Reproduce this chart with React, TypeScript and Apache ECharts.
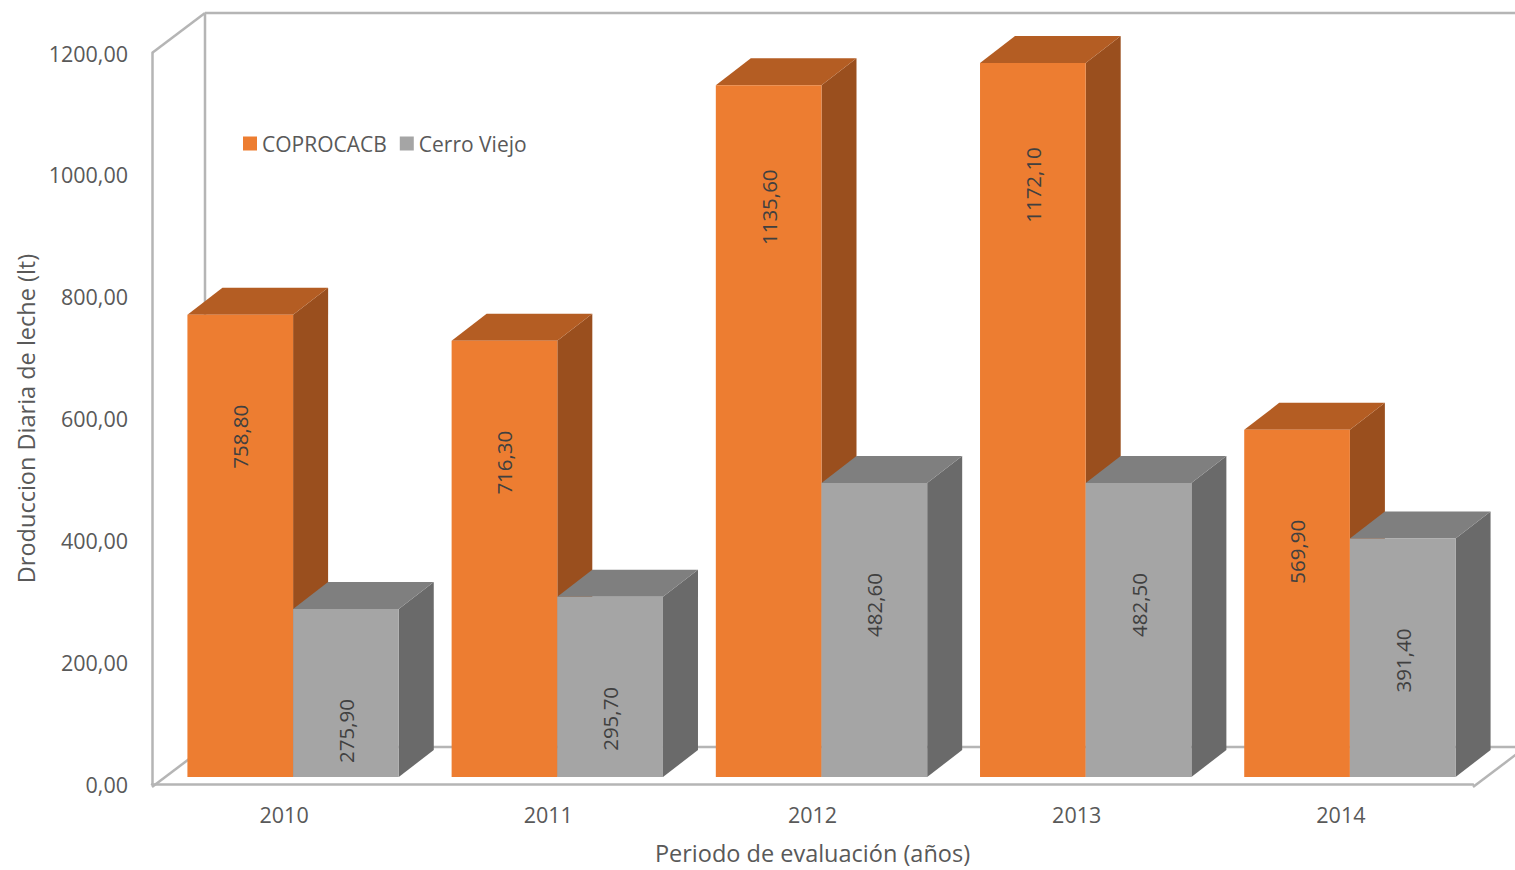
import React, { useEffect, useRef } from "react";
import * as echarts from "echarts";

const categories = ["2010", "2011", "2012", "2013", "2014"];
const seriesNames = ["COPROCACB", "Cerro Viejo"];
const coprocacb = [758.8, 716.3, 1135.6, 1172.1, 569.9];
const cerroViejo = [275.9, 295.7, 482.6, 482.5, 391.4];
const yMin = 0;
const yMax = 1200;
const yInterval = 200;

const W = 1515;
const H = 870;
const GRID = { left: 152, right: 42, top: 53, bottom: 83 };
const DEPTH = [53, -40]; // full depth of the 3D box
const BAR_FRONT = [9, -7]; // offset of bar front face from front plane
const BAR_DEPTH = [35, -27];
const FONT = "'Open Sans', 'Noto Sans', sans-serif";
const FRAME = "#b5b5b5";

const palettes = [
  { front: "#ED7D31", top: "#B45D23", side: "#9A4F1E" },
  { front: "#A5A5A5", top: "#7F7F7F", side: "#6A6A6A" },
];

const fmt = (v: number) => v.toFixed(2).replace(".", ",");

export default function App() {
  const ref = useRef<HTMLDivElement>(null);
  useEffect(() => {
    document.body.style.margin = "0";
    const chart = echarts.init(ref.current!, null, { renderer: "svg" });

    const gl = GRID.left;
    const gt = GRID.top;
    const gr = W - GRID.right;
    const gb = H - GRID.bottom;
    const [dx, dy] = DEPTH;
    const line = (x1: number, y1: number, x2: number, y2: number) => ({
      type: "line",
      z: -10,
      silent: true,
      shape: { x1, y1, x2, y2 },
      style: { stroke: FRAME, lineWidth: 2.5 },
    });

    const renderItem = (params: any, api: any) => {
      const si = params.seriesIndex;
      const pal = palettes[si];
      const cat = api.value(0);
      const val = api.value(1);
      const base = api.coord([cat, 0]);
      const topP = api.coord([cat, val]);
      const band = api.size([1, 0])[0];
      const barW = band * 0.4;
      const cx = base[0] + BAR_FRONT[0];
      const yb = base[1] + BAR_FRONT[1];
      const yt = topP[1] + BAR_FRONT[1];
      const x0 = si === 0 ? cx - barW : cx;
      const x1 = x0 + barW;
      const [bx, by] = BAR_DEPTH;
      return {
        type: "group",
        children: [
          {
            type: "polygon",
            shape: { points: [[x1, yt], [x1 + bx, yt + by], [x1 + bx, yb + by], [x1, yb]] },
            style: { fill: pal.side },
          },
          {
            type: "polygon",
            shape: { points: [[x0, yt], [x1, yt], [x1 + bx, yt + by], [x0 + bx, yt + by]] },
            style: { fill: pal.top },
          },
          {
            type: "rect",
            shape: { x: x0, y: yt, width: barW, height: yb - yt },
            style: { fill: pal.front },
          },
          {
            type: "text",
            x: (x0 + x1) / 2,
            y: yt + 122,
            rotation: Math.PI / 2,
            style: {
              text: fmt(val),
              fill: "#404040",
              font: `20.5px ${FONT}`,
              align: "center",
              verticalAlign: "middle",
            },
          },
        ],
      };
    };

    chart.setOption({
      animation: false,
      backgroundColor: "#ffffff",
      textStyle: { fontFamily: FONT },
      grid: GRID,
      legend: {
        left: 243,
        top: 133,
        padding: 0,
        icon: "rect",
        itemWidth: 14,
        itemHeight: 14,
        itemGap: 13,
        textStyle: { fontSize: 21, color: "#595959", fontFamily: FONT },
        data: seriesNames,
      },
      xAxis: {
        type: "category",
        data: categories,
        boundaryGap: true,
        axisLine: { show: true, lineStyle: { color: FRAME, width: 2.5 } },
        axisTick: { show: false },
        axisLabel: { fontSize: 21.5, color: "#595959", margin: 19, fontFamily: FONT },
        name: "Periodo de evaluación (años)",
        nameLocation: "middle",
        nameGap: 57,
        nameTextStyle: { fontSize: 23.5, color: "#595959", fontFamily: FONT },
        splitLine: { show: false },
      },
      yAxis: {
        type: "value",
        min: yMin,
        max: yMax,
        interval: yInterval,
        axisLine: { show: true, lineStyle: { color: FRAME, width: 2.5 } },
        axisTick: { show: false },
        splitLine: { show: false },
        axisLabel: {
          fontSize: 21.5,
          color: "#595959",
          margin: 24,
          fontFamily: FONT,
          formatter: (v: number) => fmt(v),
        },
        name: "Droduccion Diaria de leche (lt)",
        nameLocation: "middle",
        nameGap: 113,
        nameTextStyle: { fontSize: 23.5, color: "#595959", fontFamily: FONT },
      },
      graphic: [
        line(gl, gt, gl + dx, gt + dy),
        line(gl + dx, gt + dy, gl + dx, gb + dy),
        line(gl + dx, gt + dy, gr + dx, gt + dy),
        line(gl + dx, gb + dy, gr + dx, gb + dy),
        line(gl, gb, gl + dx, gb + dy),
        line(gr, gb, gr + dx, gb + dy),
      ],
      series: [
        {
          name: seriesNames[0],
          type: "custom",
          renderItem,
          itemStyle: { color: palettes[0].front },
          encode: { x: 0, y: 1 },
          data: coprocacb.map((v, i) => [i, v]),
          z: 3,
        },
        {
          name: seriesNames[1],
          type: "custom",
          renderItem,
          itemStyle: { color: palettes[1].front },
          encode: { x: 0, y: 1 },
          data: cerroViejo.map((v, i) => [i, v]),
          z: 4,
        },
      ],
    });
    return () => chart.dispose();
  }, []);
  return <div ref={ref} style={{ width: W, height: H }} />;
}
